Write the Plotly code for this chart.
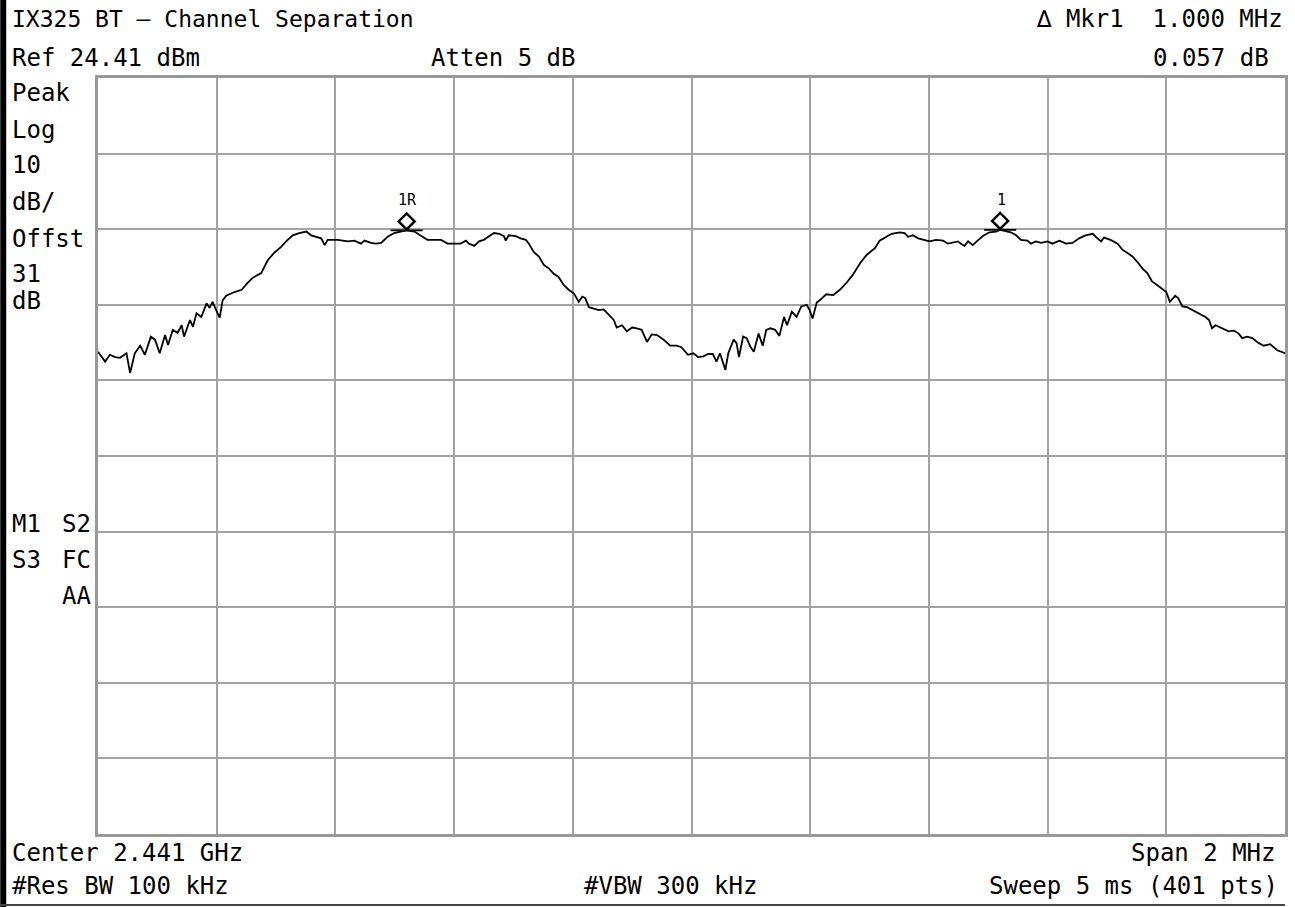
import plotly.graph_objects as go

# ---------------- data ----------------
# frequency offset from centre 2.441 GHz, in MHz
freq_offset_mhz = [
    -1.000, -0.988, -0.980, -0.971, -0.963, -0.952, -0.946, -0.938, -0.929, -0.921,
    -0.911, -0.904, -0.896, -0.887, -0.882, -0.874, -0.866, -0.859, -0.855, -0.845,
    -0.840, -0.834, -0.826, -0.817, -0.812, -0.807, -0.801, -0.795, -0.790, -0.784,
    -0.770, -0.758, -0.748, -0.739, -0.725, -0.714, -0.703, -0.691, -0.683, -0.672,
    -0.661, -0.649, -0.641, -0.632, -0.624, -0.618, -0.613, -0.596, -0.579, -0.568,
    -0.557, -0.551, -0.540, -0.532, -0.523, -0.512, -0.501, -0.490, -0.480, -0.467,
    -0.455, -0.445, -0.422, -0.411, -0.397, -0.389, -0.380, -0.375, -0.366, -0.358,
    -0.350, -0.341, -0.333, -0.324, -0.316, -0.313, -0.308, -0.296, -0.288, -0.279,
    -0.274, -0.266, -0.257, -0.249, -0.240, -0.232, -0.224, -0.215, -0.207, -0.198,
    -0.190, -0.184, -0.179, -0.173, -0.165, -0.156, -0.148, -0.139, -0.131, -0.126,
    -0.117, -0.109, -0.100, -0.092, -0.084, -0.075, -0.067, -0.058, -0.047, -0.036,
    -0.025, -0.017, -0.006, 0.003, 0.011, 0.020, 0.028, 0.036, 0.042, 0.048,
    0.057, 0.062, 0.071, 0.076, 0.080, 0.087, 0.093, 0.099, 0.105, 0.113,
    0.120, 0.126, 0.133, 0.141, 0.148, 0.156, 0.161, 0.169, 0.177, 0.185,
    0.194, 0.199, 0.204, 0.211, 0.216, 0.227, 0.239, 0.250, 0.261, 0.272,
    0.284, 0.295, 0.309, 0.317, 0.328, 0.337, 0.351, 0.359, 0.365, 0.373,
    0.382, 0.390, 0.401, 0.412, 0.424, 0.432, 0.440, 0.449, 0.454, 0.460,
    0.466, 0.474, 0.482, 0.491, 0.502, 0.513, 0.520, 0.538, 0.547, 0.555,
    0.566, 0.572, 0.580, 0.589, 0.600, 0.608, 0.620, 0.631, 0.642, 0.653,
    0.664, 0.676, 0.684, 0.690, 0.695, 0.706, 0.718, 0.726, 0.734, 0.743,
    0.751, 0.760, 0.768, 0.776, 0.785, 0.793, 0.800, 0.806, 0.815, 0.820,
    0.827, 0.835, 0.844, 0.855, 0.866, 0.872, 0.877, 0.883, 0.891, 0.897,
    0.905, 0.914, 0.922, 0.928, 0.936, 0.945, 0.953, 0.964, 0.975, 0.987,
    1.000,
]
level_dbm = [
    -11.8, -13.1, -12.2, -12.5, -12.6, -12.0, -14.6, -12.0, -11.0, -12.2,
    -9.8, -10.2, -12.0, -9.6, -10.9, -8.9, -9.3, -8.3, -9.8, -7.6,
    -8.5, -6.7, -7.2, -5.4, -6.0, -5.2, -6.3, -7.3, -5.0, -4.4,
    -3.9, -3.6, -2.7, -2.0, -1.4, 0.3, 1.3, 2.1, 2.8, 3.6,
    3.9, 4.1, 3.6, 3.4, 3.2, 2.3, 3.0, 3.0, 2.8, 2.9,
    2.5, 2.9, 2.6, 2.5, 2.6, 3.4, 3.9, 4.1, 4.25, 4.1,
    3.5, 3.0, 3.0, 2.5, 2.5, 2.5, 2.9, 2.5, 2.2, 2.8,
    3.0, 3.5, 3.9, 3.8, 3.5, 2.9, 3.6, 3.5, 3.2, 3.0,
    2.5, 1.4, 0.8, -0.3, -0.8, -1.5, -1.9, -3.0, -3.6, -4.1,
    -5.2, -4.5, -4.7, -5.9, -6.1, -6.3, -6.2, -6.9, -7.6, -8.6,
    -8.3, -9.1, -8.6, -8.7, -8.9, -10.5, -9.5, -9.6, -10.2, -11.0,
    -11.0, -11.2, -12.2, -12.0, -12.5, -12.4, -12.1, -12.1, -13.1, -12.0,
    -14.2, -12.0, -10.2, -10.7, -12.5, -9.8, -10.0, -11.1, -11.8, -9.4,
    -11.0, -8.9, -8.7, -8.9, -9.7, -7.2, -8.3, -6.5, -7.2, -5.8,
    -5.6, -6.3, -7.4, -5.3, -5.0, -4.2, -4.3, -3.6, -2.7, -1.6,
    -0.1, 1.0, 1.9, 2.9, 3.4, 3.8, 4.0, 3.9, 3.4, 3.6,
    3.2, 3.0, 2.8, 3.0, 2.9, 2.5, 2.6, 2.8, 2.5, 2.2,
    2.8, 2.3, 2.9, 3.5, 4.0, 4.1, 4.31, 4.0, 3.6, 3.0,
    2.9, 2.5, 2.8, 2.6, 2.8, 2.5, 2.9, 2.5, 2.6, 3.2,
    3.6, 3.8, 3.2, 2.8, 3.3, 3.0, 2.5, 1.7, 1.3, 0.8,
    0.1, -0.8, -1.4, -2.5, -3.0, -3.5, -3.9, -5.2, -4.4, -4.7,
    -5.8, -5.9, -6.3, -6.7, -7.2, -7.6, -8.7, -8.3, -8.6, -8.8,
    -9.1, -9.0, -9.4, -10.0, -9.8, -10.0, -10.5, -11.0, -10.8, -11.6,
    -12.0,
]

# markers (1R = reference, 1 = delta marker)
marker_labels = ["1R", "1"]
marker_freq_mhz = [-0.480, 0.520]
marker_level_dbm = [4.25, 4.31]

ref_level_dbm = 24.41
db_per_div = 10
n_div = 10
span_mhz = 2.0

# ---------------- layout helpers (pixel -> paper) ----------------
W, H = 1295, 907
L, R, T, B = 98, 7, 78, 73
PW, PH = W - L - R, H - T - B


def px(x):
    return (x - L) / PW


def py(y):
    return (H - B - y) / PH


FONT = "DejaVu Sans Mono"
fig = go.Figure()

fig.add_trace(go.Scatter(
    x=freq_offset_mhz, y=level_dbm, mode="lines",
    line=dict(color="black", width=1.8), hoverinfo="skip", showlegend=False,
))

shapes = []
annotations = []

for lab, fx, lv in zip(marker_labels, marker_freq_mhz, marker_level_dbm):
    shapes.append(dict(
        type="path", xref="x", yref="y", xsizemode="pixel", ysizemode="pixel",
        xanchor=fx, yanchor=lv,
        path="M 0 1 L 8 9 L 0 17 L -8 9 Z",
        line=dict(color="black", width=2.5), fillcolor="rgba(0,0,0,0)",
    ))
    shapes.append(dict(
        type="path", xref="x", yref="y", xsizemode="pixel", ysizemode="pixel",
        xanchor=fx, yanchor=lv, path="M -16 0 L 16 0",
        line=dict(color="black", width=1.8),
    ))
    annotations.append(dict(
        x=fx, y=lv, xref="x", yref="y", text=lab, showarrow=False,
        yshift=30, xshift=1, font=dict(family=FONT, size=15, color="black"),
    ))


def txt(x, y, s, anchor="left", size=24):
    annotations.append(dict(
        x=px(x), y=py(y), xref="paper", yref="paper", text=s, showarrow=False,
        xanchor=anchor, yanchor="middle",
        font=dict(family=FONT, size=size, color="black"),
    ))


# header
txt(10, 19, "IX325 BT – Channel Separation", size=23)
txt(10, 58, "Ref 24.41 dBm")
txt(430, 58, "Atten 5 dB")
txt(1288, 19, "∆ Mkr1  1.000 MHz", anchor="right")
txt(1274, 58, "0.057 dB", anchor="right")
# left side labels
for s, yy in [("Peak", 93), ("Log", 130), ("10", 165), ("dB/", 202),
              ("Offst", 239), ("31", 274), ("dB", 301)]:
    txt(10, yy, s)
txt(10, 524, "M1")
txt(93, 524, "S2", anchor="right")
txt(10, 560, "S3")
txt(93, 560, "FC", anchor="right")
txt(93, 596, "AA", anchor="right")
# footer
txt(10, 853, "Center 2.441 GHz")
txt(1281, 853, "Span 2 MHz", anchor="right")
txt(10, 886, "#Res BW 100 kHz")
txt(583, 886, "#VBW 300 kHz")
txt(1283, 886, "Sweep 5 ms (401 pts)", anchor="right")

# black bar at left edge and line at bottom
shapes.append(dict(type="rect", xref="paper", yref="paper",
                   x0=px(0), x1=px(6), y0=py(H), y1=py(0),
                   fillcolor="black", line=dict(width=0), layer="above"))
shapes.append(dict(type="line", xref="paper", yref="paper",
                   x0=px(0), x1=px(1288), y0=py(905), y1=py(905),
                   line=dict(color="#444444", width=2)))

grid_col = "#a3a3a3"
fig.update_layout(
    width=W, height=H, autosize=False,
    margin=dict(l=L, r=R, t=T, b=B, pad=0),
    paper_bgcolor="white", plot_bgcolor="white",
    showlegend=False,
    xaxis=dict(
        range=[-span_mhz / 2, span_mhz / 2], tick0=-1, dtick=span_mhz / n_div,
        showgrid=True, gridcolor=grid_col, gridwidth=2, zeroline=False,
        showticklabels=False, ticks="", showline=True, mirror=True,
        linecolor="#999999", linewidth=3, fixedrange=True,
    ),
    yaxis=dict(
        range=[ref_level_dbm - n_div * db_per_div, ref_level_dbm],
        tick0=ref_level_dbm, dtick=db_per_div,
        showgrid=True, gridcolor=grid_col, gridwidth=2, zeroline=False,
        showticklabels=False, ticks="", showline=True, mirror=True,
        linecolor="#999999", linewidth=3, fixedrange=True,
    ),
    shapes=shapes, annotations=annotations,
)

fig.write_html("out.html", config={"displayModeBar": False},
               post_script="document.body.style.margin='0';")
